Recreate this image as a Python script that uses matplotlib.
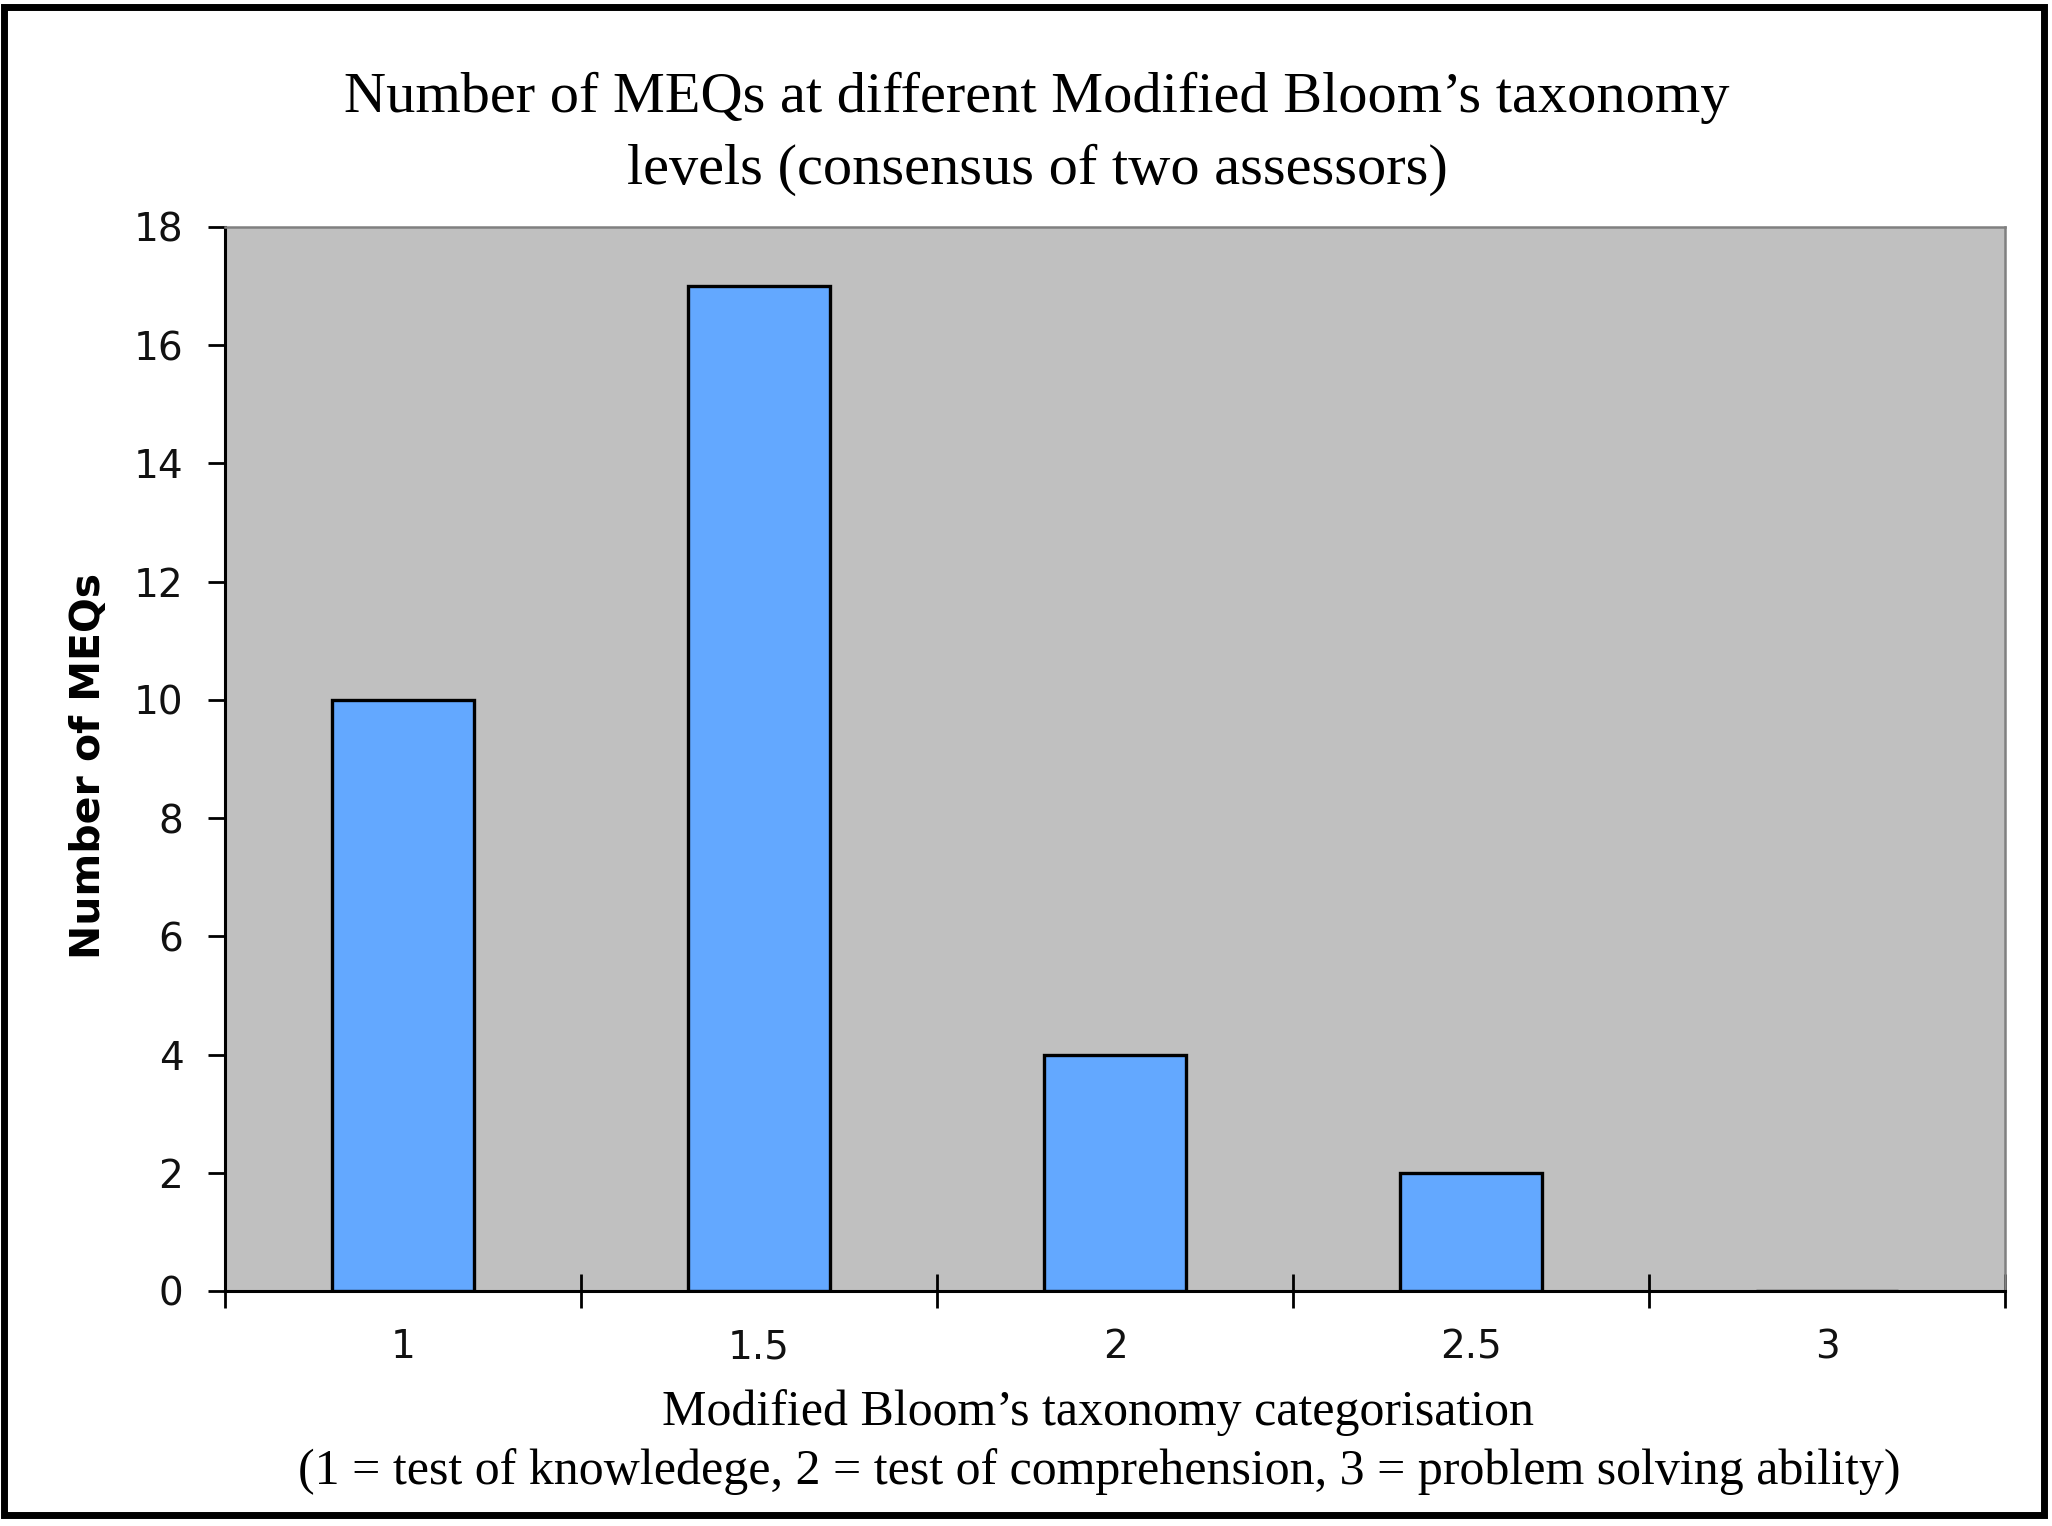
import matplotlib
matplotlib.use("Agg")
import matplotlib.pyplot as plt
from matplotlib.patches import Rectangle

categories = ["1", "1.5", "2", "2.5", "3"]
counts = [10, 17, 4, 2, 0]
yticks = [0, 2, 4, 6, 8, 10, 12, 14, 16, 18]

title = "Number of MEQs at different Modified Bloom\u2019s taxonomy\nlevels (consensus of two assessors)"
xlabel1 = "Modified Bloom\u2019s taxonomy categorisation"
xlabel2 = "(1 = test of knowledege, 2 = test of comprehension, 3 = problem solving ability)"
ylabel = "Number of MEQs"

W, H = 2052, 1526
fig = plt.figure(figsize=(W / 100, H / 100), dpi=100)
fig.patch.set_facecolor("white")

ax = fig.add_axes([225 / W, 1 - 1291 / H, (2005 - 225) / W, (1291 - 227) / H])
ax.set_facecolor("#C0C0C0")

x = list(range(len(categories)))
ax.bar(x, counts, width=0.4, color="#63A8FF", edgecolor="black", linewidth=2.4, zorder=3)

ax.set_xlim(-0.5, len(categories) - 0.5)
ax.set_ylim(0, 18)

ax.set_yticks(yticks)
ax.set_yticklabels([str(v) for v in yticks], fontsize=28, family="DejaVu Sans", color="#111111")
ax.tick_params(axis="y", direction="out", length=12, width=2, pad=18, color="black")

ax.set_xticks(x)
ax.set_xticklabels(categories, fontsize=28, family="DejaVu Sans", color="#111111")
ax.tick_params(axis="x", which="major", length=0, pad=27)
ax.set_xticks([i - 0.5 for i in range(len(categories) + 1)], minor=True)
ax.tick_params(axis="x", which="minor", direction="inout", length=24, width=2, color="black")

for s in ["left", "bottom"]:
    ax.spines[s].set_color("black")
    ax.spines[s].set_linewidth(2.2)
for s in ["top", "right"]:
    ax.spines[s].set_color("#808080")
    ax.spines[s].set_linewidth(1.8)

fig.text(89 / W, 1 - 766 / H, ylabel, rotation=90, ha="center", va="center",
         fontsize=29.5, fontweight="bold", family="DejaVu Sans")

fig.text(1037 / W, 1 - 134 / H, title, ha="center", va="center", fontsize=42,
         family="Liberation Serif", linespacing=1.5)
fig.text(1098 / W, 1 - 1413 / H, xlabel1, ha="center", va="center", fontsize=36,
         family="Liberation Serif")
fig.text(1099 / W, 1 - 1472 / H, xlabel2, ha="center", va="center", fontsize=36,
         family="Liberation Serif")

frame = Rectangle((3.5 / W, 1 - 1515 / H), (2044 - 3.5) / W, (1515 - 7) / H,
                  transform=fig.transFigure, fill=False, edgecolor="black", linewidth=5)
fig.patches.append(frame)

fig.savefig("out.png", dpi=100, facecolor="white")
